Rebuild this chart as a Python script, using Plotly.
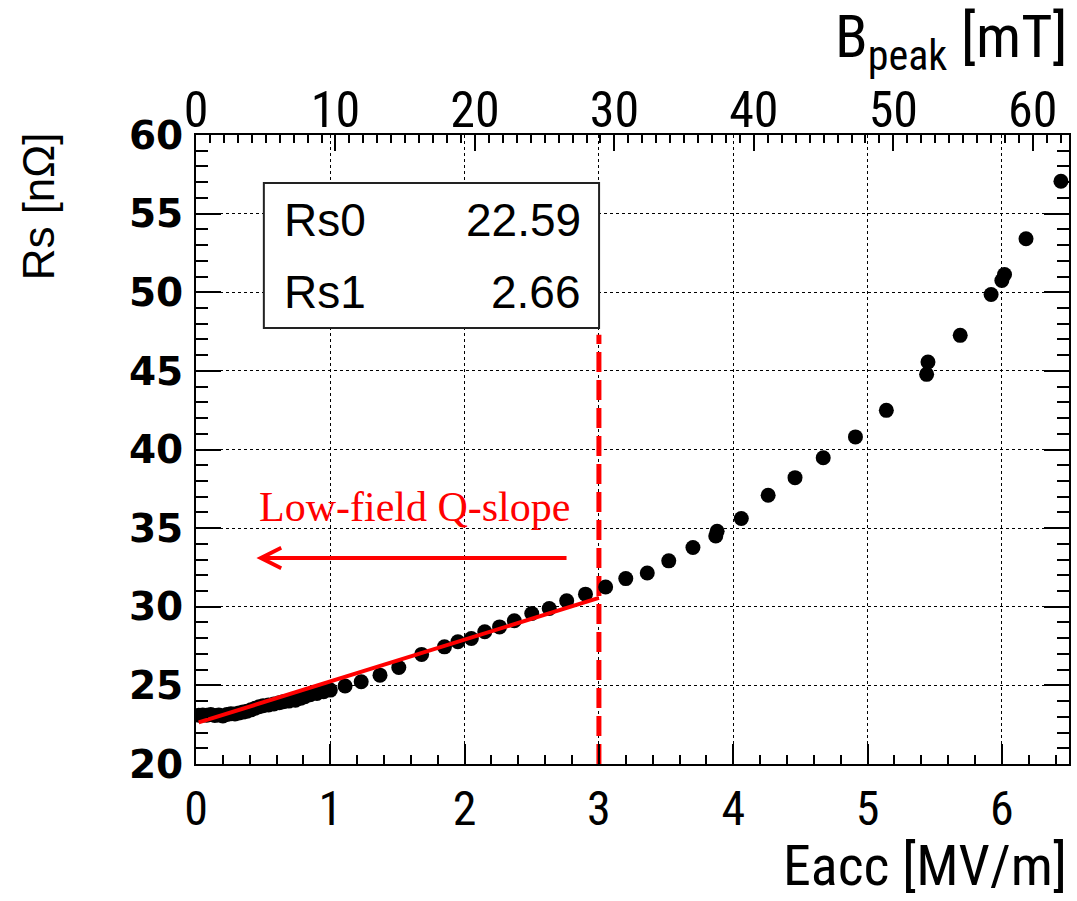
import plotly.graph_objects as go

# ---------------- data ----------------
eacc = [0.02, 0.05, 0.08, 0.11, 0.14, 0.17, 0.20, 0.23, 0.26, 0.29, 0.32, 0.35,
        0.38, 0.41, 0.44, 0.47, 0.50, 0.54, 0.58, 0.62, 0.65, 0.69, 0.74, 0.78,
        0.81, 0.85, 0.90, 0.95, 1.00, 1.11, 1.23, 1.37, 1.51, 1.68, 1.85, 1.95,
        2.05, 2.15, 2.26, 2.37, 2.50, 2.63, 2.76, 2.90, 3.05, 3.20, 3.36, 3.52,
        3.70, 3.87, 3.88, 4.06, 4.26, 4.46, 4.67, 4.91, 5.14, 5.44, 5.45, 5.69,
        5.92, 6.00, 6.02, 6.18, 6.44]
rs = [23.10, 23.12, 23.10, 23.15, 23.08, 23.12, 23.05, 23.15, 23.20, 23.18, 23.25, 23.30,
      23.35, 23.45, 23.55, 23.64, 23.70, 23.75, 23.82, 23.90, 23.96, 24.00, 24.05, 24.18,
      24.28, 24.40, 24.49, 24.60, 24.70, 24.96, 25.23, 25.65, 26.14, 26.97, 27.45, 27.77,
      27.98, 28.41, 28.72, 29.11, 29.57, 29.89, 30.38, 30.80, 31.26, 31.79, 32.15, 32.92,
      33.77, 34.50, 34.80, 35.61, 37.09, 38.21, 39.48, 40.80, 42.49, 44.78, 45.56, 47.26,
      49.86, 50.75, 51.13, 53.40, 57.06]

fit_params = {"Rs0": 22.59, "Rs1": 2.66}
fit_range = [0.02, 3.0]
cut_eacc = 3.0
cut_top_rs = 47.3
bpeak_per_eacc = 9.63

x_range = [0, 6.5]
y_range = [20, 60]
x_ticks = [0, 1, 2, 3, 4, 5, 6]
y_ticks = [20, 25, 30, 35, 40, 45, 50, 55, 60]
b_ticks = [0, 10, 20, 30, 40, 50, 60]

arrow_tail = (2.77, 33.1)
arrow_head = (0.45, 33.1)
label_pos = (1.63, 36.35)
label_text = "Low-field Q-slope"

# ---------------- figure ----------------
W, H = 1077, 901
L, R, T, B = 196, 6, 135, 137
pw, ph = W - L - R, H - T - B

SANS = "Liberation Sans, Arial, sans-serif"
NARROW = "Liberation Sans Narrow, Arial Narrow, Roboto Condensed, Liberation Sans, sans-serif"
WIDE = "DejaVu Sans, sans-serif"
SERIF = "Liberation Serif, Times New Roman, serif"

fig = go.Figure()

fit_x = [fit_range[0], fit_range[1]]
fit_y = [fit_params["Rs0"] + fit_params["Rs1"] * v for v in fit_x]

fig.add_trace(go.Scatter(x=[cut_eacc, cut_eacc], y=[y_range[0], cut_top_rs], mode="lines",
                         line=dict(color="#ff0000", width=5, dash="20px,8px"),
                         showlegend=False, hoverinfo="skip", cliponaxis=False))
fig.add_trace(go.Scatter(x=eacc, y=rs, mode="markers",
                         marker=dict(color="black", size=15),
                         showlegend=False))
fig.add_trace(go.Scatter(x=fit_x, y=fit_y, mode="lines",
                         line=dict(color="#ff0000", width=4),
                         showlegend=False, hoverinfo="skip"))
# invisible trace to activate the top B_peak axis
fig.add_trace(go.Scatter(x=[0, x_range[1] * bpeak_per_eacc], y=[y_range[0], y_range[0]],
                         xaxis="x2", mode="markers", marker=dict(opacity=0),
                         showlegend=False, hoverinfo="skip"))

grid = dict(showgrid=True, gridcolor="black", gridwidth=1, griddash="dot")

fig.update_layout(
    width=W, height=H,
    margin=dict(l=L, r=R, t=T, b=B),
    plot_bgcolor="white", paper_bgcolor="white",
    xaxis=dict(range=x_range, tickvals=x_ticks, ticks="inside", ticklen=20, tickwidth=2,
               tickcolor="black", showline=True, linecolor="black", linewidth=2,
               mirror=False, zeroline=False,
               tickfont=dict(family=NARROW, size=48, color="black"),
               ticklabelstandoff=1,
               minor=dict(dtick=0.2, ticks="inside", ticklen=9, tickwidth=2,
                          tickcolor="black", showgrid=False),
               **grid),
    yaxis=dict(range=y_range, tickvals=y_ticks, ticks="inside", ticklen=25, tickwidth=2,
               tickcolor="black", showline=True, linecolor="black", linewidth=2,
               mirror="ticks", zeroline=False,
               tickfont=dict(family=WIDE, size=39, color="black", weight="bold"),
               ticklabelstandoff=3,
               minor=dict(dtick=1, ticks="inside", ticklen=12, tickwidth=2,
                          tickcolor="black", showgrid=False),
               **grid),
    xaxis2=dict(range=[0, x_range[1] * bpeak_per_eacc], overlaying="x", side="top",
                anchor="y", tickvals=b_ticks, ticks="inside", ticklen=16, tickwidth=2,
                tickcolor="black", showline=True, linecolor="black", linewidth=2,
                showgrid=False, zeroline=False,
                tickfont=dict(family=NARROW, size=50, color="black"),
                ticklabelstandoff=-14,
                minor=dict(dtick=1, ticks="inside", ticklen=8, tickwidth=1.5,
                           tickcolor="black", showgrid=False)),
)

# stats box
bx0, bx1 = (264 - L) / pw, (600 - L) / pw
by1, by0 = 1 - (183 - T) / ph, 1 - (328 - T) / ph
fig.add_shape(type="rect", xref="paper", yref="paper", x0=bx0, x1=bx1, y0=by0, y1=by1,
              line=dict(color="#222222", width=2), fillcolor="white", layer="above")


def py(p):
    return 1 - (p - T) / ph


def px(p):
    return (p - L) / pw


box_font = dict(family=SANS, size=46, color="black")
names = list(fit_params.keys())
rows_y = [220, 292]
for name, yy in zip(names, rows_y):
    fig.add_annotation(x=px(282), y=py(yy), xref="paper", yref="paper", text=name,
                       showarrow=False, xanchor="left", yanchor="middle", font=box_font)
    fig.add_annotation(x=px(584), y=py(yy), xref="paper", yref="paper",
                       text=f"{fit_params[name]:.2f}",
                       showarrow=False, xanchor="right", yanchor="middle", font=box_font)

# arrow + label
fig.add_annotation(x=arrow_head[0], y=arrow_head[1], ax=arrow_tail[0], ay=arrow_tail[1],
                   xref="x", yref="y", axref="x", ayref="y", text="",
                   showarrow=True, arrowhead=5, arrowwidth=4, arrowsize=1,
                   arrowcolor="#ff0000")
fig.add_annotation(x=label_pos[0], y=label_pos[1], xref="x", yref="y", text=label_text,
                   showarrow=False, font=dict(family=SERIF, size=42, color="#ff0000"))

# axis titles
fig.add_annotation(x=px(1071), y=py(866), xref="paper", yref="paper", text="Eacc [MV/m]",
                   showarrow=False, xanchor="right", yanchor="middle",
                   font=dict(family=NARROW, size=56, color="black"))
fig.add_annotation(x=px(1071), y=py(40), xref="paper", yref="paper",
                   text="B<sub>peak</sub> [mT]",
                   showarrow=False, xanchor="right", yanchor="middle",
                   font=dict(family=NARROW, size=60, color="black"))
fig.add_annotation(x=px(38), y=py(130), xref="paper", yref="paper", text="Rs [nΩ]",
                   showarrow=False, textangle=-90, xanchor="center", yanchor="top",
                   font=dict(family=SANS, size=44, color="black"))

fig.write_html("out.html")
